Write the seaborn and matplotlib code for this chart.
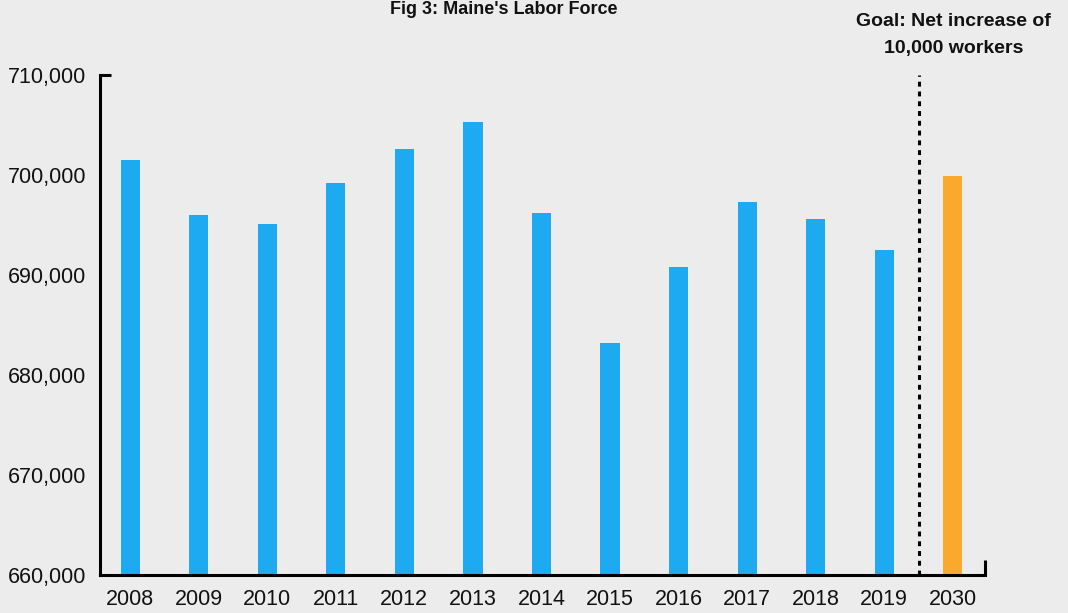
import pandas as pd
import matplotlib
matplotlib.use("Agg")
import matplotlib.pyplot as plt
import seaborn as sns

# Maine's labor force by year, plus the 2030 goal
years = ["2008", "2009", "2010", "2011", "2012", "2013", "2014",
         "2015", "2016", "2017", "2018", "2019", "2030"]
labor_force = [701500, 696000, 695100, 699200, 702600, 705300, 696200,
               683200, 690800, 697300, 695600, 692500, 699900]
bar_colors = ["#1EAAF1"] * 12 + ["#FBA92C"]
y_ticks = [660000, 670000, 680000, 690000, 700000, 710000]

df = pd.DataFrame({"Year": years, "Workers": labor_force})

sns.set_style("white")
plt.rcParams["font.family"] = ["Liberation Sans", "DejaVu Sans"]
bg = "#ECECEC"

fig = plt.figure(figsize=(10.68, 6.13), dpi=100, facecolor=bg)
ax = fig.add_axes([100 / 1068, 1 - 575 / 613, 885 / 1068, 500 / 613])
ax.set_facecolor(bg)

sns.barplot(data=df, x="Year", y="Workers", hue="Year", palette=bar_colors,
            width=0.28, legend=False, ax=ax, saturation=1, linewidth=0)

ax.set_ylim(660000, 710000)
ax.set_xlim(-0.44, 12.47)
ax.set_yticks(y_ticks)
ax.set_yticklabels([f"{v:,}" for v in y_ticks])
ax.tick_params(axis="both", length=0, labelsize=15.5, colors="#111111")
ax.tick_params(axis="x", pad=10)
ax.tick_params(axis="y", pad=10)
ax.set_xlabel("")
ax.set_ylabel("")

for side in ["top", "right"]:
    ax.spines[side].set_visible(False)
for side in ["left", "bottom"]:
    ax.spines[side].set_linewidth(2.2)
    ax.spines[side].set_color("#000000")

# small end caps on the axis lines
ax.plot([0, 0.012], [1, 1], transform=ax.transAxes, color="black",
        lw=2.2, clip_on=False, solid_capstyle="butt")
ax.plot([1, 1], [0, 0.03], transform=ax.transAxes, color="black",
        lw=2.2, clip_on=False, solid_capstyle="butt")

# divider between history and goal
ax.axvline(11.5, ymin=0, ymax=1, color="black", lw=2.2,
           linestyle=(0, (1.6, 1.6)))

fig.text(0.893, 1 - 35 / 613, "Goal: Net increase of\n10,000 workers",
         ha="center", va="center", fontsize=14, fontweight="bold",
         linespacing=1.75, color="#111111")
fig.text(0.472, 1 - 14 / 613, "Fig 3: Maine's Labor Force", ha="center",
         va="baseline", fontsize=13, fontweight="bold", color="#111111")

fig.savefig("out.png", dpi=100, facecolor=bg)
